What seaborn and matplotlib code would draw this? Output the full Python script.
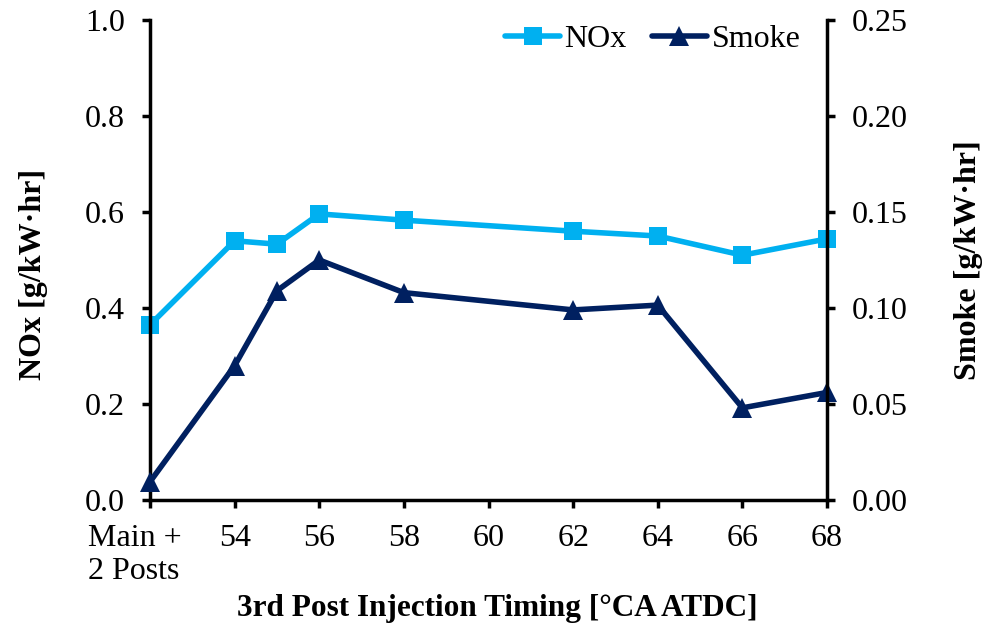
import matplotlib.pyplot as plt
import matplotlib.transforms as mtransforms
import seaborn as sns
import pandas as pd
from matplotlib.lines import Line2D

# Data
timing = [52, 54, 55, 56, 58, 62, 64, 66, 68]
nox = [0.365, 0.540, 0.533, 0.596, 0.583, 0.560, 0.550, 0.510, 0.544]
smoke = [0.0095, 0.070, 0.109, 0.125, 0.108, 0.099, 0.1015, 0.048, 0.056]
x_ticks = [52, 54, 56, 58, 60, 62, 64, 66, 68]
x_labels = ["Main +\n2 Posts", "54", "56", "58", "60", "62", "64", "66", "68"]
nox_ticks = [0.0, 0.2, 0.4, 0.6, 0.8, 1.0]
smoke_ticks = [0.0, 0.05, 0.10, 0.15, 0.20, 0.25]

df = pd.DataFrame({"timing": timing, "NOx": nox, "Smoke": smoke})

# Style
sns.set_style("white")
plt.rcParams["font.family"] = ["Liberation Serif", "DejaVu Serif"]
plt.rcParams["text.color"] = "black"
plt.rcParams["axes.labelcolor"] = "black"
nox_color = "#00B0F0"
smoke_color = "#002060"
fs = 23

fig = plt.figure(figsize=(9.89, 6.31), dpi=100)
ax = fig.add_axes([0.1517, 0.2076, 0.6845, 0.7607])
ax2 = ax.twinx()

sns.lineplot(data=df, x="timing", y="NOx", color=nox_color, lw=4,
             marker="s", markersize=13.5, markeredgewidth=0, ax=ax)
sns.lineplot(data=df, x="timing", y="Smoke", color=smoke_color, lw=4,
             marker="^", markersize=14.5, markeredgewidth=0, ax=ax2)

ax.set_xlim(52, 68)
ax.set_ylim(0, 1.0)
ax2.set_ylim(0, 0.25)
ax.set_xticks(x_ticks)
ax.set_xticklabels(x_labels)
ax.set_yticks(nox_ticks)
ax.set_yticklabels([f"{v:.1f}" for v in nox_ticks])
ax2.set_yticks(smoke_ticks)
ax2.set_yticklabels([f"{v:.2f}" for v in smoke_ticks])

for a in (ax, ax2):
    for s in a.spines.values():
        s.set_visible(False)
ax.spines["left"].set_visible(True)
ax.spines["bottom"].set_visible(True)
ax2.spines["right"].set_visible(True)
for s in (ax.spines["left"], ax.spines["bottom"], ax2.spines["right"]):
    s.set_linewidth(2.5)
    s.set_color("black")

for line in ax.lines + ax2.lines:
    line.set_clip_on(False)

ax.tick_params(axis="y", labelsize=fs, length=6, width=2.5, direction="out",
               left=True, colors="black", pad=12)
ax.tick_params(axis="x", labelsize=fs, length=6, width=2.5, direction="out",
               bottom=True, colors="black", pad=11)
ax2.tick_params(axis="y", labelsize=fs, length=6, width=2.5, direction="out",
                right=True, colors="black", pad=12)

# first category label: left-aligned two-line block, shifted a bit left
first = ax.get_xticklabels()[0]
first.set_multialignment("left")
first.set_transform(first.get_transform() +
                    mtransforms.ScaledTranslation(-15 / 100, 0, fig.dpi_scale_trans))

ax.set_xlabel("3rd Post Injection Timing [°CA ATDC]", fontsize=22.5, fontweight="bold", labelpad=6)
ax.xaxis.label.set_x(0.513)
ax.set_ylabel("NOx [g/kW·hr]", fontsize=fs, fontweight="bold", labelpad=27)
ax.yaxis.label.set_y(0.47)
ax2.set_ylabel("Smoke [g/kW·hr]", fontsize=fs, fontweight="bold", labelpad=33)

handles = [
    Line2D([], [], color=nox_color, lw=4, marker="s", markersize=13.5, markeredgewidth=0),
    Line2D([], [], color=smoke_color, lw=4, marker="^", markersize=14.5, markeredgewidth=0),
]
ax2.legend(handles, ["NOx", "Smoke"], loc="upper right", bbox_to_anchor=(1.003, 1.05),
           ncol=2, frameon=False, fontsize=fs, handlelength=1.7, handletextpad=0.15,
           columnspacing=0.8)

fig.savefig("out.png", dpi=100)
